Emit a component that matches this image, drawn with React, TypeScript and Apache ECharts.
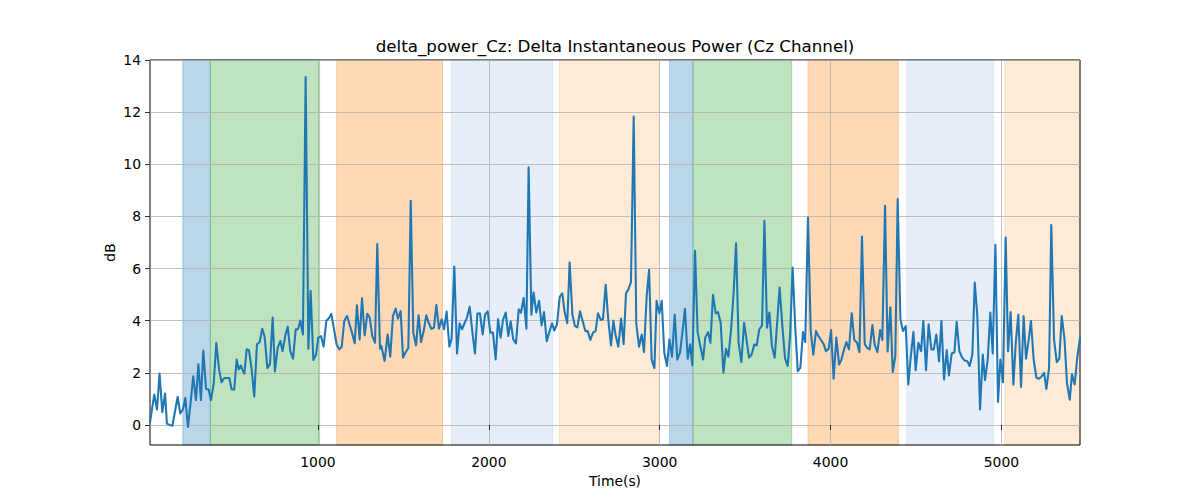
import React, { useEffect, useRef } from "react";
import * as echarts from "echarts";

const TITLE = "delta_power_Cz: Delta Instantaneous Power (Cz Channel)";
const X_LABEL = "Time(s)";
const Y_LABEL = "dB";
const X_TICKS = [1000, 2000, 3000, 4000, 5000];
const Y_TICKS = [0, 2, 4, 6, 8, 10, 12, 14];

const TIMES = [
  17, 42, 58, 73, 89, 105, 116, 132, 148, 179, 194, 210, 224, 239, 255, 270, 286, 300, 315, 329,
  345, 360, 374, 390, 405, 421, 436, 452, 466, 481, 495, 510, 524, 536, 549, 557, 569, 583, 596, 612,
  627, 643, 659, 674, 688, 704, 719, 735, 748, 764, 780, 793, 809, 823, 838, 854, 870, 883, 897, 912,
  928, 944, 957, 973, 989, 1002, 1018, 1033, 1049, 1065, 1078, 1094, 1109, 1125, 1139, 1154, 1170, 1185, 1199, 1215,
  1228, 1244, 1258, 1273, 1289, 1303, 1318, 1334, 1347, 1363,
  1371, 1390, 1408, 1423, 1439, 1455, 1468, 1484, 1498, 1513, 1529, 1543, 1558, 1574, 1589, 1603, 1619, 1634, 1648, 1663,
  1679, 1693, 1708, 1724, 1738, 1753, 1769, 1782, 1798, 1814, 1829, 1843, 1859, 1872, 1888, 1903, 1919, 1933, 1948, 1964,
  1978, 1993, 2009, 2024, 2040, 2054, 2069, 2083, 2099, 2114, 2128, 2143, 2159, 2175, 2188, 2204, 2220, 2233, 2249, 2262,
  2278, 2294, 2309, 2323, 2339, 2354, 2370, 2383, 2399, 2415, 2430, 2444, 2459, 2473, 2489, 2504, 2518, 2534, 2549, 2565,
  2579, 2594, 2610, 2625, 2639, 2655, 2668, 2684, 2699, 2715,
  2729, 2742, 2758, 2774, 2789, 2803, 2818, 2832, 2848, 2863, 2879, 2895, 2908, 2924, 2938, 2953, 2969, 2982, 2998, 3012,
  3027, 3043, 3057, 3072, 3088, 3103, 3119, 3133, 3148, 3164, 3178, 3191, 3207, 3222, 3238, 3254, 3267, 3283, 3297, 3312,
  3328, 3341, 3357, 3373, 3388, 3402, 3417, 3433, 3447, 3462, 3478, 3494, 3509, 3523, 3538, 3554, 3568, 3583, 3599, 3613,
  3628, 3642, 3657, 3673, 3689, 3702, 3718, 3734, 3749, 3763, 3778, 3794, 3808, 3823, 3839, 3852, 3868, 3884, 3899, 3915,
  3929, 3944, 3960, 3973, 3989, 4003, 4018, 4034, 4050, 4063, 4079,
  4093, 4108, 4124, 4139, 4155, 4169, 4184, 4200, 4214, 4229, 4245, 4258, 4274, 4290, 4303, 4319, 4334, 4350, 4364, 4379,
  4393, 4409, 4424, 4440, 4455, 4469, 4485, 4498, 4514, 4530, 4543, 4559, 4574, 4590, 4604, 4619, 4635, 4649, 4664, 4680,
  4693, 4709, 4725, 4738, 4754, 4770, 4785, 4801, 4814, 4830, 4844, 4859, 4875, 4891, 4904, 4920, 4935, 4949, 4965, 4980,
  4994, 5009, 5025, 5039, 5054, 5070, 5084, 5099, 5115, 5130, 5144, 5160, 5173, 5189, 5205, 5220, 5234, 5250, 5263, 5279,
  5292, 5308, 5324, 5339, 5353, 5369, 5384, 5400, 5413, 5429, 5444, 5460,
];

const POWER_DB = [
  0.1, 1.17, 0.59, 1.97, 0.49, 1.2, 0.05, 0.0, -0.03, 1.08, 0.44, 0.6, 1.03, -0.08, 0.87, 1.87, 0.95, 2.33, 0.95, 2.85,
  1.38, 1.36, 0.95, 1.6, 3.15, 2.13, 1.64, 1.8, 1.8, 1.8, 1.36, 1.36, 2.51, 2.13, 2.28, 2.13, 1.97, 2.9, 2.87, 2.13,
  1.08, 3.09, 3.18, 3.69, 3.38, 2.18, 2.33, 4.12, 2.05, 2.95, 3.22, 2.83, 3.44, 3.77, 2.83, 2.54, 3.67, 3.67, 4.0, 3.47,
  13.35, 2.92, 5.15, 2.49, 2.7, 3.35, 3.41, 3.0, 4.0, 4.1, 4.26, 3.67, 3.09, 2.9, 3.0, 4.0, 4.18, 3.86, 3.54, 3.13,
  4.59, 3.28, 4.86, 3.44, 4.26, 4.12, 3.41, 3.15, 6.94, 2.92,
  3.03, 2.45, 3.47, 2.62, 4.18, 4.46, 4.08, 4.37, 2.58, 2.79, 2.95, 8.6, 3.54, 3.05, 4.21, 3.18, 3.6, 4.21, 3.92, 3.69,
  3.73, 4.6, 3.69, 4.05, 3.67, 4.35, 3.0, 3.31, 6.08, 2.74, 3.9, 3.67, 3.92, 4.12, 4.53, 3.6, 2.74, 4.27, 4.28, 3.47,
  4.23, 4.36, 3.54, 3.54, 2.51, 4.05, 3.35, 4.03, 4.31, 3.41, 3.97, 3.28, 3.13, 4.44, 4.31, 4.87, 3.69, 9.88, 4.23, 5.08,
  4.31, 4.76, 3.82, 4.33, 3.21, 3.56, 3.9, 3.62, 3.86, 4.91, 5.05, 4.31, 3.9, 6.23, 4.24, 3.79, 3.74, 4.36, 3.99, 3.6,
  3.6, 3.26, 3.54, 3.6, 4.28, 4.03, 4.05, 5.38, 4.05, 3.05,
  4.0, 3.44, 3.0, 4.08, 3.1, 5.05, 5.21, 5.49, 11.83, 3.9, 3.0, 3.47, 2.79, 4.95, 5.95, 2.51, 2.18, 4.76, 4.28, 4.76,
  2.77, 2.26, 3.28, 2.62, 4.23, 2.51, 2.77, 3.54, 4.46, 2.54, 3.09, 2.28, 6.68, 3.56, 3.03, 2.51, 3.35, 3.56, 3.15, 4.99,
  4.28, 4.33, 3.92, 2.0, 2.92, 2.62, 3.6, 5.08, 6.97, 3.15, 2.41, 3.92, 3.22, 2.58, 2.7, 3.09, 3.05, 3.67, 3.82, 7.83,
  3.73, 4.31, 3.03, 2.58, 4.05, 5.27, 3.79, 2.54, 2.26, 3.41, 6.04, 3.67, 2.06, 2.19, 3.56, 3.18, 7.96, 3.6, 2.7, 3.6,
  3.41, 3.26, 3.09, 2.83, 2.92, 3.64, 1.77, 3.35, 2.32, 2.49, 2.9,
  3.18, 2.9, 4.28, 3.26, 3.15, 2.79, 7.23, 3.1, 2.96, 2.9, 3.83, 3.09, 2.79, 3.64, 3.26, 8.41, 2.82, 4.51, 2.03, 2.64,
  8.67, 4.05, 3.6, 3.79, 1.55, 2.58, 3.56, 2.1, 3.15, 2.83, 3.99, 2.1, 3.86, 2.9, 2.9, 3.47, 2.44, 3.99, 1.74, 2.87,
  1.9, 2.74, 2.79, 3.95, 2.83, 2.58, 2.47, 2.44, 2.26, 2.7, 5.46, 4.18, 0.59, 2.7, 1.72, 2.51, 4.31, 2.74, 6.91, 0.88,
  2.51, 1.64, 7.19, 2.83, 4.33, 1.54, 3.15, 4.23, 1.46, 4.18, 2.54, 3.28, 3.99, 2.49, 1.81, 1.77, 1.85, 2.0, 1.38, 2.19,
  7.67, 3.28, 2.41, 2.54, 4.18, 3.31, 1.59, 0.97, 1.94, 1.55, 2.58, 3.35,
];

// shaded intervals (seconds) and their group (0..4)
const SPAN_STARTS = [209, 370, 1109, 1782, 2414, 3058, 3195, 3868, 4446, 5019];
const SPAN_ENDS = [370, 1010, 1729, 2374, 2997, 3195, 3773, 4397, 4955, 5460];
const SPAN_GROUP = [0, 1, 2, 3, 4, 0, 1, 2, 3, 4];

const X_MIN = 17;
const X_MAX = 5460;
const Y_MIN = -0.77;
const Y_MAX = 14;

const SPAN_PALETTE = [
  "rgba(31,119,180,0.3)",
  "rgba(44,160,44,0.3)",
  "rgba(255,127,14,0.3)",
  "rgba(174,199,232,0.3)",
  "rgba(255,187,120,0.3)",
];

const FONT = "DejaVu Sans";

export default function App() {
  const ref = useRef<HTMLDivElement>(null);

  useEffect(() => {
    if (!ref.current) return;
    const chart = echarts.init(ref.current, undefined, { renderer: "svg" });

    const lineData = TIMES.map((t, i) => [t, POWER_DB[i]]);
    const areas = SPAN_STARTS.map((s, i) => {
      const c = SPAN_PALETTE[SPAN_GROUP[i]];
      return [
        { xAxis: s, itemStyle: { color: c, borderColor: c, borderWidth: 1 } },
        { xAxis: SPAN_ENDS[i] },
      ];
    });

    const option: any = {
      animation: false,
      grid: {
        left: 150,
        right: 120,
        top: 60,
        bottom: 55,
        show: true,
        borderColor: "#000",
        borderWidth: 1,
        backgroundColor: "transparent",
      },
      xAxis: {
        type: "value",
        min: X_MIN,
        max: X_MAX,
        minInterval: 1000,
        maxInterval: 1000,
        axisLine: { show: false },
        axisTick: {
          show: true,
          length: 5,
          lineStyle: { color: "#000", width: 0.8 },
          customValues: X_TICKS,
        },
        axisLabel: {
          color: "#000",
          fontSize: 13.9,
          fontFamily: FONT,
          margin: 10,
          hideOverlap: false,
          customValues: X_TICKS,
          formatter: (v: number) => String(v),
        },
        splitLine: { show: true, lineStyle: { color: "#b0b0b0", width: 0.8 } },
      },
      yAxis: {
        type: "value",
        min: Y_MIN,
        max: Y_MAX,
        splitNumber: 7,
        minInterval: 2,
        maxInterval: 2,
        axisLine: { show: false },
        axisTick: {
          show: true,
          length: 5,
          lineStyle: { color: "#000", width: 0.8 },
          customValues: Y_TICKS,
        },
        axisLabel: {
          color: "#000",
          fontSize: 13.9,
          fontFamily: FONT,
          margin: 9,
          hideOverlap: false,
          customValues: Y_TICKS,
          formatter: (v: number) => String(v),
        },
        splitLine: { show: true, lineStyle: { color: "#b0b0b0", width: 0.8 } },
      },
      series: [
        {
          type: "line",
          data: lineData,
          showSymbol: false,
          symbol: "none",
          z: 2,
          lineStyle: { color: "#1f77b4", width: 2.08, join: "round", cap: "round" },
          markArea: {
            silent: true,
            z: -1,
            data: areas,
          },
        },
      ],
      graphic: [
        {
          type: "text",
          x: 615,
          y: 46,
          style: {
            text: TITLE,
            fill: "#000",
            font: `16.7px "${FONT}"`,
            align: "center",
            verticalAlign: "middle",
          },
        },
        {
          type: "text",
          x: 615,
          y: 481,
          style: {
            text: X_LABEL,
            fill: "#000",
            font: `13.9px "${FONT}"`,
            align: "center",
            verticalAlign: "middle",
          },
        },
        {
          type: "text",
          x: 110,
          y: 252.5,
          rotation: Math.PI / 2,
          style: {
            text: Y_LABEL,
            fill: "#000",
            font: `13.9px "${FONT}"`,
            align: "center",
            verticalAlign: "middle",
          },
        },
      ],
    };

    chart.setOption(option);
    return () => chart.dispose();
  }, []);

  return (
    <div
      ref={ref}
      style={{ position: "fixed", left: 0, top: 0, width: 1200, height: 500, background: "#fff" }}
    />
  );
}
